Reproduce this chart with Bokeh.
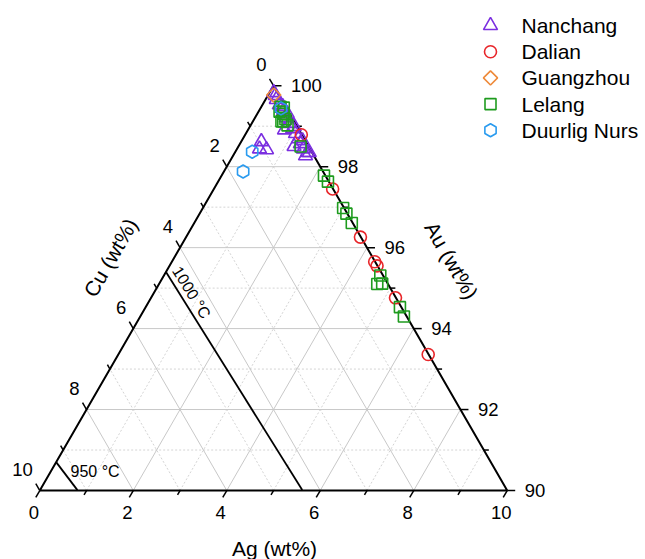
import math
import numpy as np
from bokeh.plotting import figure
from bokeh.models import Range1d, ColumnDataSource
from bokeh.embed import file_html
from bokeh.resources import INLINE
from bokeh.core.properties import value

# ---------------- data (wt%) ----------------
nanchang_ag = [0.09, 0.23, 0.36, 0.52, 0.67, 0.81, 0.94, 1.06, 1.19, 1.29, 1.42, 1.55, 1.55, 0.78, 1.19,
               0.43, 0.48, 0.64, 0.16, 0.45, 0.64, 0.95, 1.30, 1.59]
nanchang_cu = [0.08, 0.11, 0.11, 0.09, 0.12, 0.12, 0.12, 0.12, 0.12, 0.14, 0.14, 0.10, 0.18, 0.31, 0.31,
               0.95, 1.08, 0.94, 0.08, 0.06, 0.05, 0.06, 0.06, 0.06]

dalian_ag = [1.20, 2.54, 3.73, 4.34, 4.44, 5.23, 6.63]
dalian_cu = [0.01, 0.01, 0.01, 0.01, 0.01, 0.01, 0.01]

guangzhou_ag = [0.12]
guangzhou_cu = [0.11]

lelang_ag = [0.41, 0.56, 0.67, 0.61, 0.79, 1.33, 2.19, 2.35, 3.00, 3.14, 3.37, 4.63, 4.67, 4.77, 5.44, 5.64,
             0.45, 0.49, 0.65]
lelang_cu = [0.11, 0.13, 0.16, 0.27, 0.19, 0.17, 0.03, 0.02, 0.02, 0.02, 0.02, 0.06, 0.23, 0.12, 0.03, 0.06,
             0.19, 0.05, 0.23]

duurlig_ag = [0.44, 0.36, 0.41]
duurlig_cu = [0.12, 1.27, 1.71]

iso1000_ag = [0.0, 5.61]
iso1000_cu = [4.60, 4.38]
iso950_ag = [0.0, 0.80]
iso950_cu = [9.30, 9.19]

ag_ticks = [0, 2, 4, 6, 8, 10]
cu_ticks = [0, 2, 4, 6, 8, 10]
au_ticks = [90, 92, 94, 96, 98, 100]
minor_vals = [1, 3, 5, 7, 9]

series_names = ["Nanchang", "Dalian", "Guangzhou", "Lelang", "Duurlig Nurs"]

# ---------------- geometry ----------------
R3 = math.sqrt(3) / 2.0


def xy(ag, cu):
    ag = np.asarray(ag, dtype=float)
    cu = np.asarray(cu, dtype=float)
    au = 100.0 - ag - cu
    return ag + (au - 90.0) / 2.0, (au - 90.0) * R3


S = 46.74          # px per wt% unit
OX, OY = 39.3, 490.0   # pixel position of the (Ag=0, Cu=10) vertex
W, H = 645, 559


def px(xp, yp):
    """pixel position -> data coordinates (for layout of labels)"""
    return (xp - OX) / S, (OY - yp) / S


p = figure(width=W, height=H, output_backend="svg", toolbar_location=None,
           x_range=Range1d(-OX / S, (W - OX) / S), y_range=Range1d((OY - H) / S, OY / S),
           min_border=0, x_axis_location=None, y_axis_location=None)
p.outline_line_color = None
p.background_fill_color = "white"
p.xgrid.visible = False
p.ygrid.visible = False

FONT = "Liberation Sans"

# ---------------- grid ----------------
def grid_segments(vals):
    xs, ys = [], []
    for k in vals:
        for a, b in [((0, 10 - k), (10 - k, 0)),      # constant Au
                     ((k, 10 - k), (k, 0)),          # constant Ag
                     ((10 - k, k), (0, k))]:         # constant Cu
            xa, ya = xy(*a)
            xb, yb = xy(*b)
            xs.append([float(xa), float(xb)])
            ys.append([float(ya), float(yb)])
    return xs, ys

mx, my = grid_segments(minor_vals)
p.multi_line(mx, my, line_color="#d4d4d4", line_width=1, line_dash="2 2")
Mx, My = grid_segments([2, 4, 6, 8])
p.multi_line(Mx, My, line_color="#c8c8c8", line_width=1)

# ---------------- frame ----------------
vx, vy = xy([0, 10, 0, 0], [10, 0, 0, 10])
p.line(vx, vy, line_color="black", line_width=2)

# ---------------- ticks ----------------
def tick_segs(vals, length_px):
    L = length_px / S
    xs, ys = [], []
    for k in vals:
        sx, sy = xy(k, 10 - k)          # Ag axis (bottom)
        xs.append([float(sx), float(sx - 0.5 * L)]); ys.append([float(sy), float(sy - R3 * L)])
        sx, sy = xy(0, k)               # Cu axis (left)
        xs.append([float(sx), float(sx - 0.5 * L)]); ys.append([float(sy), float(sy + R3 * L)])
        sx, sy = xy(k, 0)               # Au axis (right)
        xs.append([float(sx), float(sx + L)]); ys.append([float(sy), float(sy)])
    return xs, ys

tx, ty = tick_segs(ag_ticks, 8)
p.multi_line(tx, ty, line_color="black", line_width=1.5)
tx, ty = tick_segs(minor_vals, 5)
p.multi_line(tx, ty, line_color="black", line_width=1.5)

# tick labels
TL = "18.5px"
ax, ay = xy(ag_ticks, [10 - v for v in ag_ticks])
p.text(ax - 6 / S, ay - 22 / S, text=[str(v) for v in ag_ticks], text_font=value(FONT),
       text_font_size=TL, text_align="center", text_baseline="middle", text_color="black")
cx, cy = xy([0] * len(cu_ticks), cu_ticks)
p.text(cx - 7 / S, cy + 21 / S, text=[str(v) for v in cu_ticks], text_font=value(FONT),
       text_font_size=TL, text_align="right", text_baseline="middle", text_color="black")
ux, uy = xy([100 - v for v in au_ticks], [0] * len(au_ticks))
p.text(ux + 17.5 / S, uy, text=[str(v) for v in au_ticks], text_font=value(FONT),
       text_font_size=TL, text_align="left", text_baseline="middle", text_color="black")

# axis titles
TT = "21px"
x_, y_ = px(110, 257)
p.text([x_], [y_], text=["Cu (wt%)"], angle=math.radians(60),
       text_font=value(FONT), text_font_size=TT, text_align="center", text_baseline="middle")
x_, y_ = px(451, 260)
p.text([x_], [y_], text=["Au (wt%)"], angle=math.radians(-60),
       text_font=value(FONT), text_font_size=TT, text_align="center", text_baseline="middle")
x_, y_ = px(274, 547.5)
p.text([x_], [y_], text=["Ag (wt%)"],
       text_font=value(FONT), text_font_size=TT, text_align="center", text_baseline="middle")

# ---------------- isotherms ----------------
ix, iy = xy(iso1000_ag, iso1000_cu)
p.line(ix, iy, line_color="black", line_width=1.8)
ix, iy = xy(iso950_ag, iso950_cu)
p.line(ix, iy, line_color="black", line_width=1.8)
x_, y_ = px(191, 292)
p.text([x_], [y_], text=["1000 °C"], angle=math.radians(-58),
       text_font=value(FONT), text_font_size="16px", text_align="center", text_baseline="middle")
x_, y_ = px(70, 470.5)
p.text([x_], [y_], text=["950 °C"],
       text_font=value(FONT), text_font_size="16px", text_align="left", text_baseline="middle")

# ---------------- data ----------------
styles = [
    (nanchang_ag, nanchang_cu, dict(marker="triangle", size=14, angle=0.0), "#7b2fe0"),
    (dalian_ag, dalian_cu, dict(marker="circle", size=12, angle=0.0), "#e8262a"),
    (guangzhou_ag, guangzhou_cu, dict(marker="square", size=10, angle=math.pi / 4), "#ee8a3a"),
    (lelang_ag, lelang_cu, dict(marker="square", size=11, angle=0.0), "#1e9b1e"),
    (duurlig_ag, duurlig_cu, dict(marker="hex", size=13, angle=math.pi / 6), "#2a9bef"),
]
for ag, cu, mk, col in styles:
    x, y = xy(ag, cu)
    src = ColumnDataSource(dict(x=x, y=y))
    p.scatter("x", "y", source=src, line_color=col, fill_color=None, line_width=1.6, **mk)

# ---------------- legend (drawn in the top-right corner) ----------------
for i, (name, (ag, cu, mk, col)) in enumerate(zip(series_names, styles)):
    lx, ly = px(490, 25 + 26.2 * i)
    p.scatter([lx], [ly], line_color=col, fill_color=None, line_width=1.6, **mk)
    tx_, ty_ = px(521, 25 + 26.2 * i)
    p.text([tx_], [ty_], text=[name], text_font=value(FONT), text_font_size="21px",
           text_align="left", text_baseline="middle", text_color="black")

html = file_html(p, INLINE)
html = html.replace("<head>", "<head><style>html,body{overflow:hidden}</style>", 1)
open("out.html", "w").write(html)
